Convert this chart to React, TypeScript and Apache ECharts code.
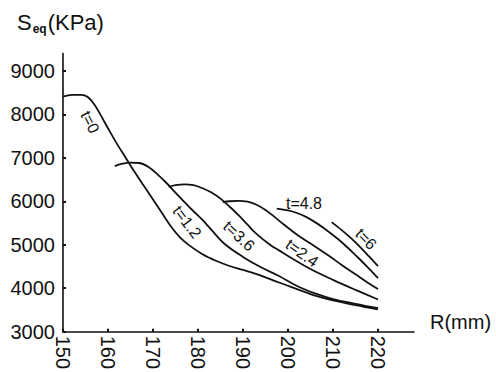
import React, { useEffect, useRef } from "react";
import * as echarts from "echarts";

// R (mm) positions and Seq (KPa) values
const r0 = [150, 152, 154, 155.5, 157, 158.5, 160, 162, 164, 166, 168, 170, 172, 174, 176, 178, 181, 184, 187, 190, 194, 198, 202, 206, 210, 215, 220];
const v0 = [8410, 8450, 8450, 8400, 8220, 7960, 7680, 7320, 6990, 6660, 6350, 6040, 5730, 5420, 5170, 4990, 4780, 4630, 4510, 4420, 4290, 4130, 3980, 3830, 3720, 3610, 3510];

const r1 = [161.5, 163, 165, 167, 169, 171, 173, 175, 177, 179, 181, 183, 186, 190, 194, 198, 202, 206, 210, 215, 220];
const v1 = [6810, 6860, 6890, 6880, 6790, 6620, 6420, 6200, 5980, 5770, 5570, 5340, 5010, 4720, 4480, 4280, 4050, 3880, 3750, 3640, 3540];

const r2 = [173.5, 175, 177, 179, 181, 183, 185, 187, 189, 191, 193, 196, 198, 200, 205, 210, 215, 220];
const v2 = [6330, 6370, 6390, 6370, 6300, 6200, 6060, 5880, 5680, 5460, 5250, 5000, 4870, 4740, 4440, 4190, 3960, 3740];

const r3 = [185.5, 187, 189, 191, 193, 195, 197, 199, 201, 203, 206, 209, 212, 215, 218, 220];
const v3 = [5980, 6000, 6010, 5990, 5920, 5800, 5640, 5470, 5310, 5160, 4960, 4750, 4530, 4320, 4110, 3980];

const r4 = [197.5, 200, 202, 204, 206, 208, 210, 212, 214, 216, 218, 220];
const v4 = [5830, 5790, 5730, 5640, 5520, 5380, 5220, 5050, 4860, 4660, 4450, 4230];

const r5 = [209.7, 212, 214, 216, 218, 220];
const v5 = [5520, 5330, 5150, 4950, 4730, 4510];

const yTicks = [3000, 4000, 5000, 6000, 7000, 8000, 9000];
const xTicks = [150, 160, 170, 180, 190, 200, 210, 220];

const curveLabels = ["t=0", "t=1.2", "t=3.6", "t=2.4", "t=4.8", "t=6"];

const FONT = "Liberation Sans, Arial, sans-serif";
const INK = "#111";

export default function App() {
  const ref = useRef<HTMLDivElement>(null);
  useEffect(() => {
    if (!ref.current) return;
    const chart = echarts.init(ref.current, null, { renderer: "svg" });
    const pairs = (r: number[], v: number[]) => r.map((x, i) => [x, v[i]]);
    const curves = [pairs(r0, v0), pairs(r1, v1), pairs(r2, v2), pairs(r3, v3), pairs(r4, v4), pairs(r5, v5)];
    const labelPos = [
      { x: 90, y: 122, rot: -1.1 },
      { x: 187, y: 222, rot: -0.92 },
      { x: 239, y: 236, rot: -0.75 },
      { x: 302, y: 253, rot: -0.62 },
      { x: 304, y: 203, rot: 0 },
      { x: 366, y: 239, rot: -0.8 },
    ];
    chart.setOption({
      animation: false,
      backgroundColor: "#fff",
      grid: { left: 63, right: 82, top: 53.5, bottom: 38, containLabel: false },
      xAxis: {
        type: "value",
        min: 150,
        max: 228,
        interval: 10,
        name: "R(mm)",
        nameLocation: "end",
        nameGap: 16,
        nameTextStyle: { fontFamily: FONT, fontSize: 20, color: INK, verticalAlign: "bottom", lineHeight: 20, padding: [0, 0, 0, 0] },
        axisLine: { lineStyle: { color: INK, width: 1.6 } },
        axisTick: { show: true, inside: true, length: 3, lineStyle: { color: INK, width: 2 }, customValues: xTicks },
        axisLabel: {
          customValues: xTicks,
          rotate: -90,
          fontFamily: FONT,
          fontSize: 20,
          color: INK,
          margin: 4,
          formatter: (v: number) => (xTicks.includes(v) ? String(v) : ""),
        },
        splitLine: { show: false },
      },
      yAxis: {
        type: "value",
        min: 3000,
        max: 9400,
        interval: 1000,
        axisLine: { show: true, lineStyle: { color: INK, width: 1.6 } },
        axisTick: { show: true, inside: true, length: 3, lineStyle: { color: INK, width: 2 }, customValues: yTicks },
        axisLabel: {
          customValues: yTicks,
          fontFamily: FONT,
          fontSize: 20,
          color: INK,
          margin: 8,
          formatter: (v: number) => (yTicks.includes(v) ? String(v) : ""),
        },
        splitLine: { show: false },
      },
      series: curves.map((d, i) => ({
        name: curveLabels[i],
        type: "line",
        data: d,
        smooth: 0.35,
        showSymbol: false,
        symbol: "none",
        lineStyle: { color: INK, width: 1.8 },
      })),
      graphic: [
        {
          type: "text",
          left: 17,
          top: 11,
          style: {
            text: "{s|S}{sub|eq}{s|(KPa)}",
            rich: {
              s: { fontFamily: FONT, fontSize: 22, fill: INK, color: INK },
              sub: { fontFamily: FONT, fontSize: 12, fontWeight: "bold", fill: INK, color: INK, padding: [13, 1, 0, 1] },
            },
          },
        },
        ...labelPos.map((p, i) => ({
          type: "text",
          x: p.x,
          y: p.y,
          rotation: p.rot,
          style: {
            text: curveLabels[i],
            fontFamily: FONT,
            fontSize: 16,
            fill: INK,
            align: "center",
            verticalAlign: "middle",
          },
        })),
      ],
    });
    return () => chart.dispose();
  }, []);
  return <div ref={ref} style={{ width: 496, height: 372, position: "fixed", left: 0, top: 0 }} />;
}
